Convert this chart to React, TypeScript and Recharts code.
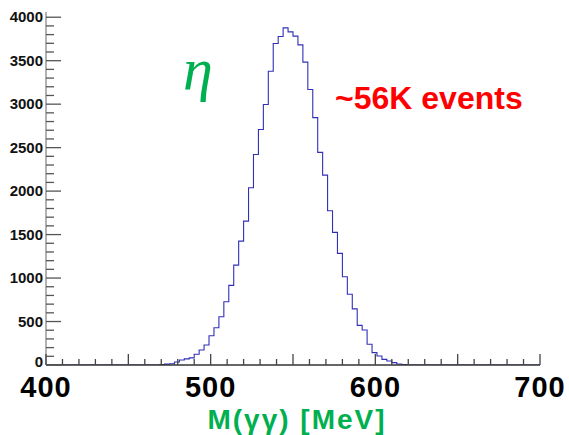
import React from "react";
import { LineChart, Line, XAxis, YAxis } from "recharts";

// Histogram: 100 bins of 3 MeV from 400 to 700 MeV
const X_MIN = 400;
const X_MAX = 700;
const BIN_WIDTH = 3;
const counts: number[] = [
  0, 0, 0, 0, 0, 0, 0, 0, 0, 0,
  0, 0, 0, 0, 0, 0, 0, 0, 0, 0,
  0, 0, 0, 4, 10, 15, 34, 57, 70, 82,
  123, 172, 230, 337, 429, 555, 728, 916, 1149, 1425,
  1655, 2038, 2421, 2709, 2996, 3379, 3697, 3778, 3877, 3831,
  3782, 3682, 3483, 3169, 2845, 2445, 2184, 1774, 1525, 1284,
  1015, 813, 646, 456, 402, 238, 142, 103, 65, 46,
  27, 12, 4, 0, 0, 0, 0, 0, 0, 0,
  0, 0, 0, 0, 0, 0, 0, 0, 0, 0,
  0, 0, 0, 0, 0, 0, 0, 0, 0, 0,
];
const Y_MAX = 4060;
const xTickValues: number[] = Array.from({ length: 31 }, (_, i) => X_MIN + i * 10);
const xLabels: number[] = [400, 500, 600, 700];
const yTickValues: number[] = Array.from({ length: 41 }, (_, i) => i * 100);
const yLabels: number[] = [0, 500, 1000, 1500, 2000, 2500, 3000, 3500, 4000];
const xTitle = "M(γγ) [MeV]";
const particleLabel = "η";
const eventsLabel = "~56K events";

const data = [
  ...counts.map((c, i) => ({ x: X_MIN + i * BIN_WIDTH, y: c })),
  { x: X_MAX, y: counts[counts.length - 1] },
];

const XTick = (props: any) => {
  const { x, y, payload } = props;
  const v = payload.value as number;
  const major = v % 50 === 0;
  const len = major ? 11 : 6;
  return (
    <g>
      <line x1={x} y1={y} x2={x} y2={y - len} stroke="#444" strokeWidth={1.3} />
      {xLabels.includes(v) && (
        <text
          x={x}
          y={y + 32}
          textAnchor="middle"
          fontFamily="'Liberation Sans', Arial, sans-serif"
          fontWeight="bold"
          fontSize={29}
          letterSpacing={1}
          fill="#000"
        >
          {v}
        </text>
      )}
    </g>
  );
};

const YTick = (props: any) => {
  const { x, y, payload } = props;
  const v = payload.value as number;
  const major = v % 500 === 0;
  const len = major ? 15 : 8;
  return (
    <g>
      <line x1={x} y1={y} x2={x + len} y2={y} stroke="#555" strokeWidth={1.3} />
      {yLabels.includes(v) && (
        <text
          x={x - 3}
          y={v === 0 ? y + 1.5 : y + 5}
          textAnchor="end"
          fontFamily="'Liberation Sans', Arial, sans-serif"
          fontWeight="bold"
          fontSize={15}
          fill="#111"
        >
          {v}
        </text>
      )}
    </g>
  );
};

export default function App() {
  return (
    <div style={{ position: "absolute", left: 0, top: 0, width: 569, height: 435, background: "#fff" }}>
      <LineChart
        width={569}
        height={435}
        data={data}
        margin={{ top: 12, right: 29, bottom: 30, left: 6 }}
      >
        <XAxis
          xAxisId="bottom"
          dataKey="x"
          type="number"
          domain={[X_MIN, X_MAX]}
          ticks={xTickValues}
          interval={0}
          tick={<XTick />}
          tickLine={false}
          tickSize={0}
          tickMargin={0}
          height={40}
          axisLine={{ stroke: "#333", strokeWidth: 1.5 }}
          allowDataOverflow
        />
        <XAxis
          xAxisId="top"
          orientation="top"
          dataKey="x"
          type="number"
          domain={[X_MIN, X_MAX]}
          tick={false}
          tickLine={false}
          height={0}
          axisLine={{ stroke: "#999", strokeWidth: 1.5 }}
        />
        <YAxis
          yAxisId="left"
          type="number"
          domain={[0, Y_MAX]}
          ticks={yTickValues}
          interval={0}
          tick={<YTick />}
          tickLine={false}
          tickSize={0}
          tickMargin={0}
          width={40}
          axisLine={{ stroke: "#999", strokeWidth: 1.5 }}
          allowDataOverflow
        />
        <YAxis
          yAxisId="right"
          orientation="right"
          type="number"
          domain={[0, Y_MAX]}
          tick={false}
          tickLine={false}
          width={0}
          axisLine={{ stroke: "#444", strokeWidth: 1 }}
        />
        <Line
          xAxisId="bottom"
          yAxisId="left"
          type="stepAfter"
          dataKey="y"
          stroke="#3030b8"
          strokeWidth={1.1}
          dot={false}
          activeDot={false}
          isAnimationActive={false}
        />
      </LineChart>
      <svg
        width={569}
        height={435}
        style={{ position: "absolute", left: 0, top: 0, pointerEvents: "none" }}
      >
        <text
          x={198}
          y={89}
          textAnchor="middle"
          fontFamily="'Liberation Serif', 'DejaVu Serif', serif"
          fontStyle="italic"
          fontSize={60}
          fill="#00b050"
        >
          {particleLabel}
        </text>
        <text
          x={335}
          y={109}
          fontFamily="'Liberation Sans', Arial, sans-serif"
          fontWeight="bold"
          fontSize={32}
          fill="#ff0000"
        >
          {eventsLabel}
        </text>
        <text
          x={297}
          y={429}
          textAnchor="middle"
          fontFamily="'Liberation Sans', Arial, sans-serif"
          fontWeight="bold"
          fontSize={28}
          letterSpacing={2}
          fill="#00b050"
        >
          {xTitle}
        </text>
      </svg>
    </div>
  );
}
